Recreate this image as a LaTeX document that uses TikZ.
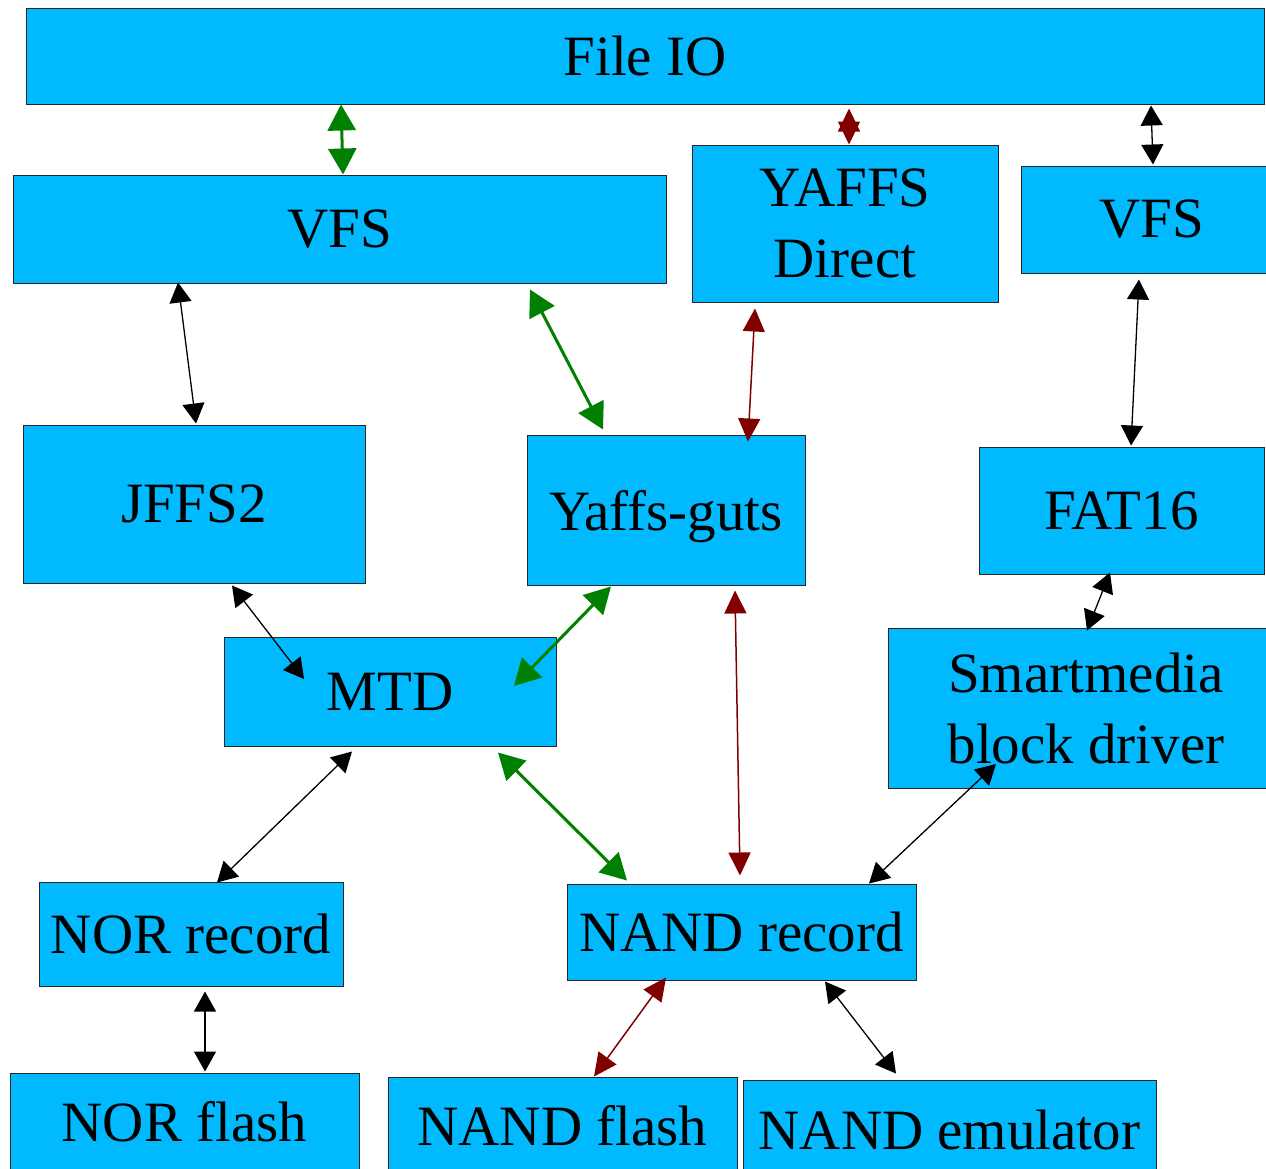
\documentclass[tikz,border=0pt]{standalone}
\usepackage{fontspec}
\setmainfont{Liberation Serif}
\usetikzlibrary{arrows.meta}
\definecolor{boxfill}{HTML}{00B9FF}
\definecolor{agreen}{HTML}{008000}
\definecolor{ared}{HTML}{800000}
\begin{document}
\begin{tikzpicture}[x=1pt,y=-1pt,
  box/.style={draw=black!85,line width=1pt,fill=boxfill,inner sep=0pt,align=center,
    font=\fontsize{57}{71}\selectfont},
  barrow/.style={line width=1.3pt,black,{Triangle[length=20pt,width=22pt]}-{Triangle[length=20pt,width=22pt]}},
  garrow/.style={line width=3pt,agreen,{Triangle[length=26pt,width=28pt]}-{Triangle[length=26pt,width=28pt]}},
  rarrow/.style={line width=1.5pt,ared,{Triangle[length=23pt,width=22pt]}-{Triangle[length=23pt,width=22pt]}}]
\useasboundingbox (0,0) rectangle (1266,1168);
\fill[white] (0,0) rectangle (1266,1168);
\node[box,minimum width=1238pt,minimum height=96pt] (fileio) at (645,56) {File IO};
\node[box,minimum width=653pt,minimum height=108pt] (vfsl) at (339.5,229) {VFS};
\node[box,minimum width=306pt,minimum height=157pt] (ydirect) at (845,223.5) {YAFFS\\Direct};
\node[box,minimum width=262pt,minimum height=107pt] (vfsr) at (1152,219.5) {VFS};
\node[box,minimum width=342pt,minimum height=158pt] (jffs) at (194,504) {JFFS2};
\node[box,minimum width=278pt,minimum height=150pt,text depth=0pt] (guts) at (666,510) {Yaffs-guts};
\node[box,minimum width=285pt,minimum height=127pt] (fat) at (1121.5,510.5) {FAT16};
\node[box,minimum width=332pt,minimum height=109pt] (mtd) at (390,691.5) {MTD};
\node[box,minimum width=396pt,minimum height=160pt] (smart) at (1086,708) {Smartmedia\\block driver};
\node[box,minimum width=304pt,minimum height=104pt] (norrec) at (191,934) {NOR record};
\node[box,minimum width=349pt,minimum height=96pt] (nandrec) at (741.5,932) {NAND record};
\node[box,minimum width=349pt,minimum height=98pt] (norflash) at (184.5,1122) {NOR flash};
\node[box,minimum width=349pt,minimum height=98pt] (nandflash) at (562.5,1126) {NAND flash};
\node[box,minimum width=413pt,minimum height=100pt] (nandemu) at (949.5,1130) {NAND emulator};

\draw[garrow] ([xshift=-304pt]fileio.south) -- ([xshift=3.5pt]vfsl.north);
\draw[rarrow] ([xshift=204pt,yshift=-4pt]fileio.south) -- ([xshift=4pt]ydirect.north);
\draw[barrow] ([xshift=506pt,yshift=-1pt]fileio.south) -- ([xshift=1pt,yshift=1pt]vfsr.north);
\draw[barrow] ([xshift=-161.5pt,yshift=1pt]vfsl.south) -- ([xshift=2pt,yshift=1pt]jffs.north);
\draw[garrow] ([xshift=190.5pt,yshift=-6pt]vfsl.south) -- ([xshift=-63pt,yshift=5pt]guts.north);
\draw[rarrow] ([xshift=-90pt,yshift=-6pt]ydirect.south) -- ([xshift=82pt,yshift=-7pt]guts.north);
\draw[barrow] ([xshift=-13pt,yshift=-6pt]vfsr.south) -- ([xshift=9.5pt,yshift=1pt]fat.north);
\draw[barrow] ([xshift=38pt,yshift=-2pt]jffs.south) -- ([xshift=-86pt,yshift=12.5pt]mtd.center);
\draw[garrow] ([xshift=-55pt,yshift=-1pt]guts.south) -- ([xshift=124pt,yshift=5.5pt]mtd.center);
\draw[rarrow] ([xshift=69pt,yshift=-5pt]guts.south) -- ([xshift=-1.5pt,yshift=8pt]nandrec.north);
\draw[barrow] ([xshift=-11.5pt,yshift=2pt]fat.south) -- ([xshift=1pt,yshift=-3pt]smart.north);
\draw[barrow] ([xshift=-38pt,yshift=-5pt]mtd.south) -- ([xshift=26pt,yshift=-1pt]norrec.north);
\draw[garrow] ([xshift=108pt,yshift=-6pt]mtd.south) -- ([xshift=-114.5pt,yshift=3pt]nandrec.north);
\draw[barrow] ([xshift=-90pt,yshift=-56pt]smart.center) -- ([xshift=127.5pt]nandrec.north);
\draw[barrow] ([xshift=14pt,yshift=-5pt]norrec.south) -- ([xshift=20.5pt,yshift=1pt]norflash.north);
\draw[rarrow] ([xshift=-75.5pt,yshift=3pt]nandrec.south) -- ([xshift=31.5pt]nandflash.north);
\draw[barrow] ([xshift=83.5pt,yshift=-1pt]nandrec.south) -- ([xshift=-53.5pt,yshift=6pt]nandemu.north);
\end{tikzpicture}
\end{document}
